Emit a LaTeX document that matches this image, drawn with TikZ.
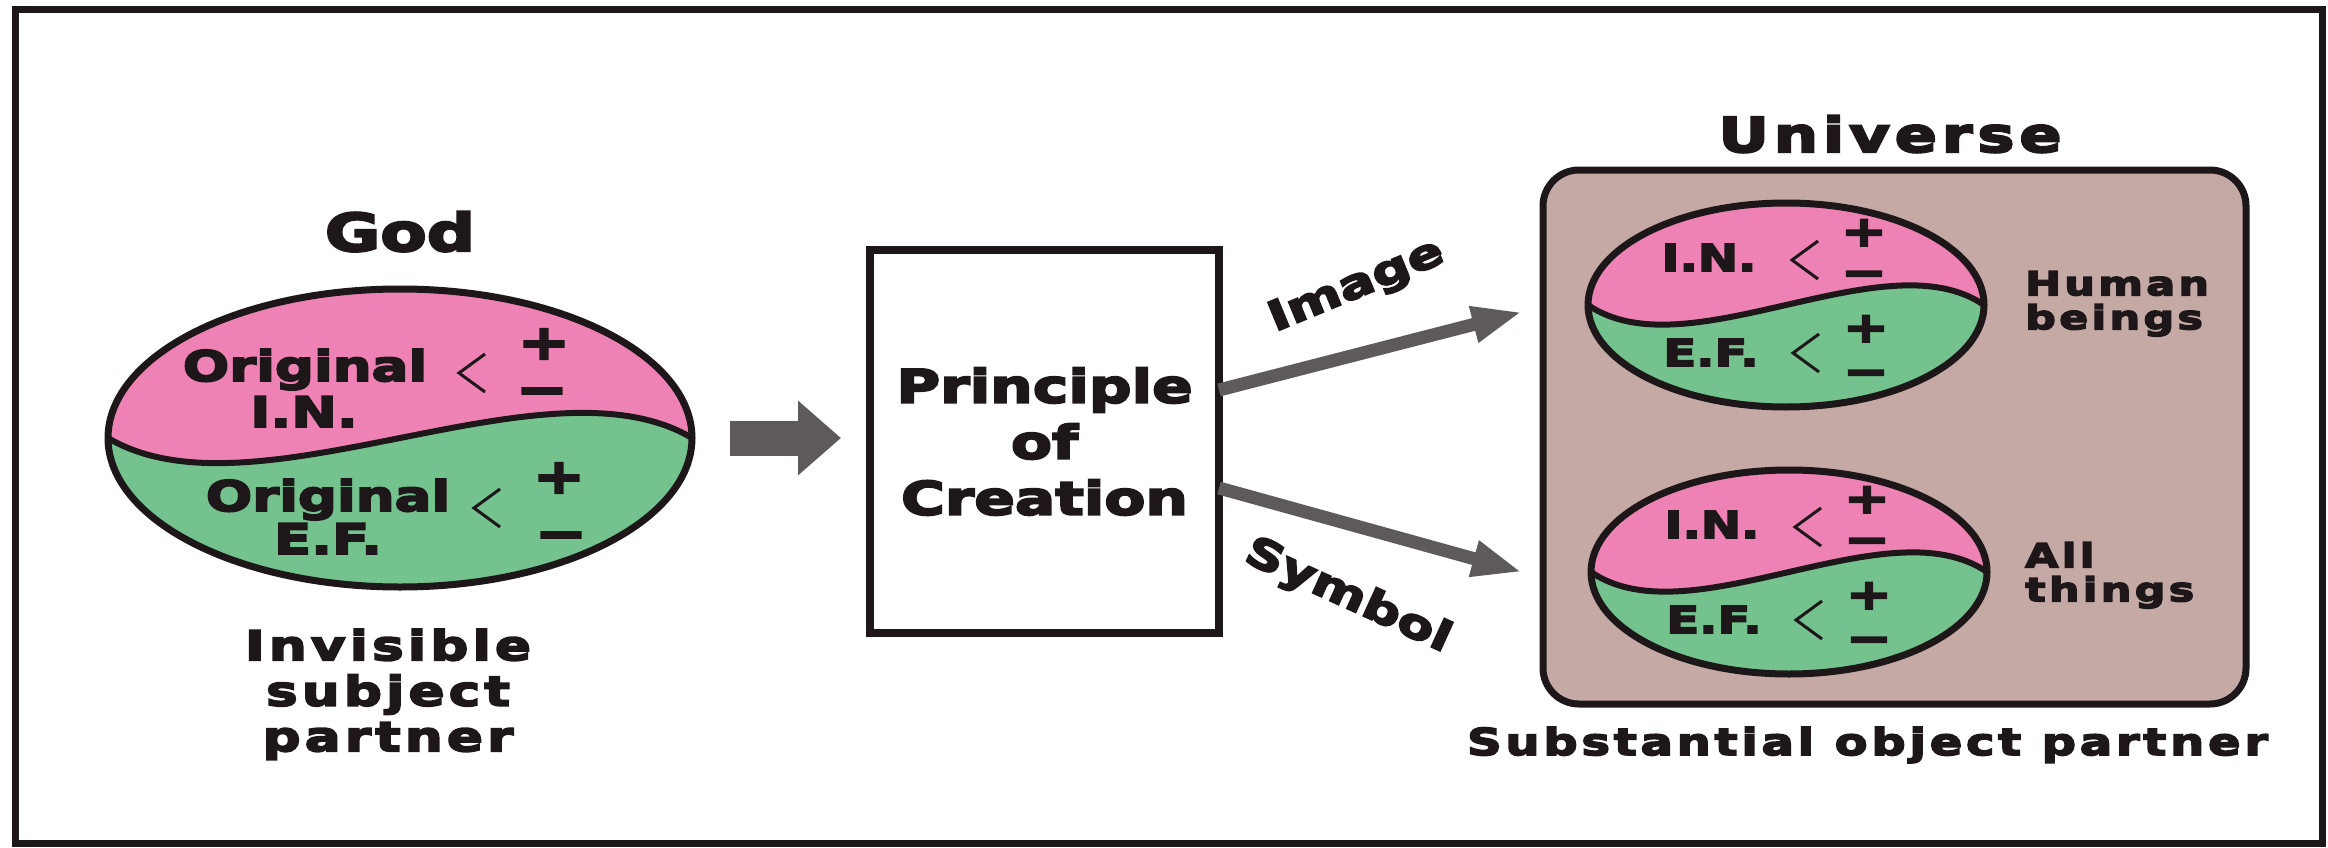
\documentclass[tikz,border=0pt]{standalone}
\usepackage{fontspec}
\setmainfont{DejaVu Sans}
\newfontfamily\heavy{DejaVu Sans Bold}[FakeStretch=1.3,FakeBold=4.5]
\newfontfamily\heavysp{DejaVu Sans Bold}[FakeStretch=1.3,FakeBold=4.5,LetterSpace=10]
\usetikzlibrary{shapes.geometric,arrows.meta}
\definecolor{pinkIN}{HTML}{EF82B4}
\definecolor{greenEF}{HTML}{74C28E}
\definecolor{univbg}{HTML}{C5A9A4}
\definecolor{arrowgray}{HTML}{5F5A5A}
\definecolor{ink}{HTML}{1E1719}
% #1 cx  #2 cy  #3 rx  #4 ry  #5 wave depth
\newcommand\yinyangfill[5]{%
  \begin{scope}
    \clip (#1,#2) ellipse [x radius=#3, y radius=#4];
    \fill[greenEF] (#1,#2) ellipse [x radius=#3, y radius=#4];
    \fill[pinkIN] ({#1-#3-30},#2) -- ({#1-#3},#2)
      .. controls ({#1-0.5*#3},{#2+#5}) and ({#1+0.5*#3},{#2-#5}) .. ({#1+#3},#2)
      -- ({#1+#3+30},#2) -- ({#1+#3+30},{#2-#4-30}) -- ({#1-#3-30},{#2-#4-30}) -- cycle;
  \end{scope}
  \draw[sline] ({#1-#3},#2) .. controls ({#1-0.5*#3},{#2+#5}) and ({#1+0.5*#3},{#2-#5}) .. ({#1+#3},#2);
}
\newcommand\ltmark[2]{\draw[brk] ({#1+13},{#2-19}) -- ({#1-13},{#2}) -- ({#1+13},{#2+19});}
% small yin-yang: #1 name, #2 cx, #3 cy
\newcommand\yysmall[3]{%
  \yinyangfill{#2}{#3}{198}{102}{68}
  \node[yyell, minimum width=396pt, minimum height=204pt] (#1) at (#2,#3) {};
  \node[small] (#1-in) at ({#2-77},{#3-34}) {I.N.};
  \ltmark{#2+19}{#3-45}
  \node[pmsmall] (#1-inp) at ({#2+78},{#3-59}) {+};
  \node[pmsmall] (#1-inm) at ({#2+78},{#3-18}) {−};
  \node[small] (#1-ef) at ({#2-75},{#3+61}) {E.F.};
  \ltmark{#2+20}{#3+48}
  \node[pmsmall] (#1-efp) at ({#2+80},{#3+37}) {+};
  \node[pmsmall] (#1-efm) at ({#2+80},{#3+81}) {−};
}
\begin{document}
\begin{tikzpicture}[x=1pt,y=-1pt,
  lab/.style={font=\heavy\fontsize{42}{46}\selectfont, anchor=base, inner sep=0pt, outer sep=0pt, text=ink},
  small/.style={lab, font=\heavy\fontsize{37}{40}\selectfont},
  pm/.style={font=\heavy\fontsize{48}{48}\selectfont, anchor=base, inner sep=0pt, text=ink},
  pmsmall/.style={pm, font=\heavy\fontsize{42}{42}\selectfont},
  side/.style={font=\heavysp\fontsize{33}{34}\selectfont, align=left, anchor=north west, inner sep=0pt, text=ink},
  yyell/.style={ellipse, draw=ink, line width=7pt, inner sep=0pt, outer sep=0pt},
  sline/.style={draw=ink, line width=6pt},
  brk/.style={draw=ink, line width=3pt},
  pocbox/.style={rectangle, draw=ink, line width=8pt, fill=white, align=center, text=ink,
    font=\heavy\fontsize{46}{56}\selectfont, inner sep=0pt, outer sep=0pt},
  univbox/.style={rectangle, rounded corners=36pt, draw=ink, line width=7pt, fill=univbg, inner sep=0pt, outer sep=0pt},
  blockarrow/.style={draw=arrowgray, line width=35pt, -{Triangle[length=43pt,width=72pt]}},
  thinarrow/.style={draw=arrowgray, line width=13pt, -{Triangle[length=50pt,width=34pt]}},
  outerframe/.style={draw=ink, line width=7pt},
  slantlab/.style={font=\heavy\fontsize{41}{42}\selectfont, inner sep=0pt, text=ink}
]
\useasboundingbox (0,0) rectangle (2328,848);
\fill[white] (0,0) rectangle (2328,848);
\draw[outerframe] (15,10) rectangle (2322,843);

% ---- God ----
\node[lab, font=\heavy\fontsize{52}{58}\selectfont] (godt) at (400,251) {God};
\yinyangfill{400}{438}{292}{149}{87}
\node[yyell, minimum width=584pt, minimum height=298pt] (god) at (400,438) {};
\node[lab] (ori1) at (305,381) {Original};
\node[lab] (in1) at (304,427) {I.N.};
\ltmark{472}{373}
\node[pm] (gp1) at (544,359) {+};
\node[pm] (gm1) at (542,406) {−};
\node[lab] (ori2) at (328,511) {Original};
\node[lab] (ef1) at (328,554) {E.F.};
\ltmark{487}{508}
\node[pm] (gp2) at (559,493) {+};
\node[pm] (gm2) at (561,550) {−};
\node[lab, font=\heavysp\fontsize{41}{45.5}\selectfont, align=center, anchor=north] (inv) at (388,629) {Invisible\\subject\\partner};

% ---- Principle of Creation ----
\node[pocbox, minimum width=349pt, minimum height=383pt] (poc) at (1044.5,441.5) {Principle\\of\\Creation};

% ---- Universe ----
\node[lab, font=\heavysp\fontsize{48}{54}\selectfont] (univt) at (1890,152) {Universe};
\node[univbox, minimum width=703pt, minimum height=534pt] (univ) at (1894.5,437) {};
\yysmall{hb}{1786}{305}
\yysmall{allth}{1789}{572}
\node[side] (hbt) at (2025,271) {Human\\beings};
\node[side] (allt) at (2025,542) {All\\things};
\node[lab, font=\heavysp\fontsize{37}{40}\selectfont, anchor=base east] (sop) at (2268,755) {Substantial object partner};

% ---- connectors ----
\draw[blockarrow] ([xshift=38pt]god.east) -- ([xshift=-29pt]god.east -| poc.west);
\draw[thinarrow] ([yshift=51.5pt]poc.east) -- ([xshift=-21pt,yshift=125pt]univ.west)
  node[slantlab, pos=0.52, above=40pt, sloped, rotate=8] (imgl) {Image};
\draw[thinarrow] ([yshift=-46.5pt]poc.east) -- ([xshift=-21pt,yshift=-135pt]univ.west)
  node[slantlab, pos=0.5, below=44pt, sloped, rotate=-9] (syml) {Symbol};
\end{tikzpicture}
\end{document}
